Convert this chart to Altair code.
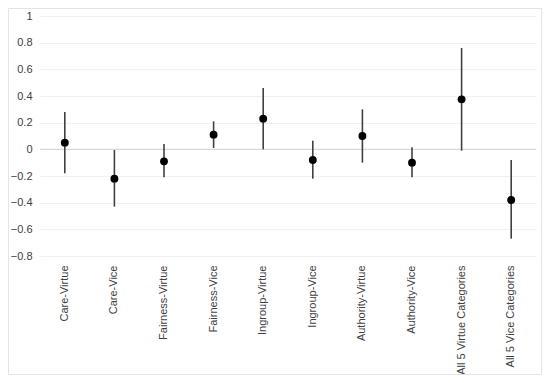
import altair as alt
import pandas as pd

categories = ["Care-Virtue", "Care-Vice", "Fairness-Virtue", "Fairness-Vice",
              "Ingroup-Virtue", "Ingroup-Vice", "Authority-Virtue", "Authority-Vice",
              "All 5 Virtue  Categories", "All 5 Vice Categories"]
estimate = [0.05, -0.22, -0.09, 0.11, 0.23, -0.08, 0.10, -0.10, 0.375, -0.38]
lower = [-0.18, -0.43, -0.21, 0.01, 0.00, -0.22, -0.10, -0.21, -0.01, -0.67]
upper = [0.28, -0.005, 0.04, 0.21, 0.46, 0.065, 0.30, 0.015, 0.76, -0.08]
y_ticks = [-0.8, -0.6, -0.4, -0.2, 0, 0.2, 0.4, 0.6, 0.8, 1]

df = pd.DataFrame({"cat": categories, "est": estimate, "lo": lower, "hi": upper})

FONT = "Liberation Sans"

x_axis = alt.Axis(labelAngle=-90, labelFont=FONT, labelFontSize=11,
                  labelColor="#404040", ticks=False, domain=False,
                  grid=False, labelPadding=9, labelLimit=200)
x_scale = alt.Scale(paddingInner=0, paddingOuter=0)
y_axis = alt.Axis(values=y_ticks, labelOverlap=False, labelFlush=False,
                  format=".1~f", labelFont=FONT, labelFontSize=11,
                  labelColor="#404040", ticks=False, domain=False,
                  gridColor="#f0f0f0", gridWidth=1, labelPadding=8)
y_scale = alt.Scale(domain=[-0.8, 1], nice=False, zero=False)

base = alt.Chart(df)

zero = alt.Chart(pd.DataFrame({"z": [0]})).mark_rule(color="#d9d9d9", strokeWidth=1.2).encode(
    y=alt.Y("z:Q", scale=y_scale, axis=y_axis, title=None)
)

bars = base.mark_rule(color="#404040", strokeWidth=1.6).encode(
    x=alt.X("cat:N", sort=categories, title=None, scale=x_scale, axis=x_axis),
    y=alt.Y("lo:Q", scale=y_scale, title=None, axis=y_axis),
    y2="hi:Q",
)

points = base.mark_circle(color="black", opacity=1, size=62).encode(
    x=alt.X("cat:N", sort=categories, title=None, scale=x_scale, axis=x_axis),
    y=alt.Y("est:Q", scale=y_scale, title=None, axis=y_axis),
)

frame = alt.Chart(pd.DataFrame({"a": [0]})).mark_rect(
    fill=None, stroke="#e3e3e3", strokeWidth=1
).encode(
    x=alt.value(-31.5), x2=alt.value(501.5), y=alt.value(-7.5), y2=alt.value(358.5)
)

chart = alt.layer(zero, bars, points, frame).properties(
    width=496, height=240,
    autosize=alt.AutoSizeParams(type="none"),
    padding={"left": 32, "top": 8, "right": 6, "bottom": 119},
).configure_view(stroke=None)

chart.save("out.html", embed_options={"renderer": "svg", "actions": False})
